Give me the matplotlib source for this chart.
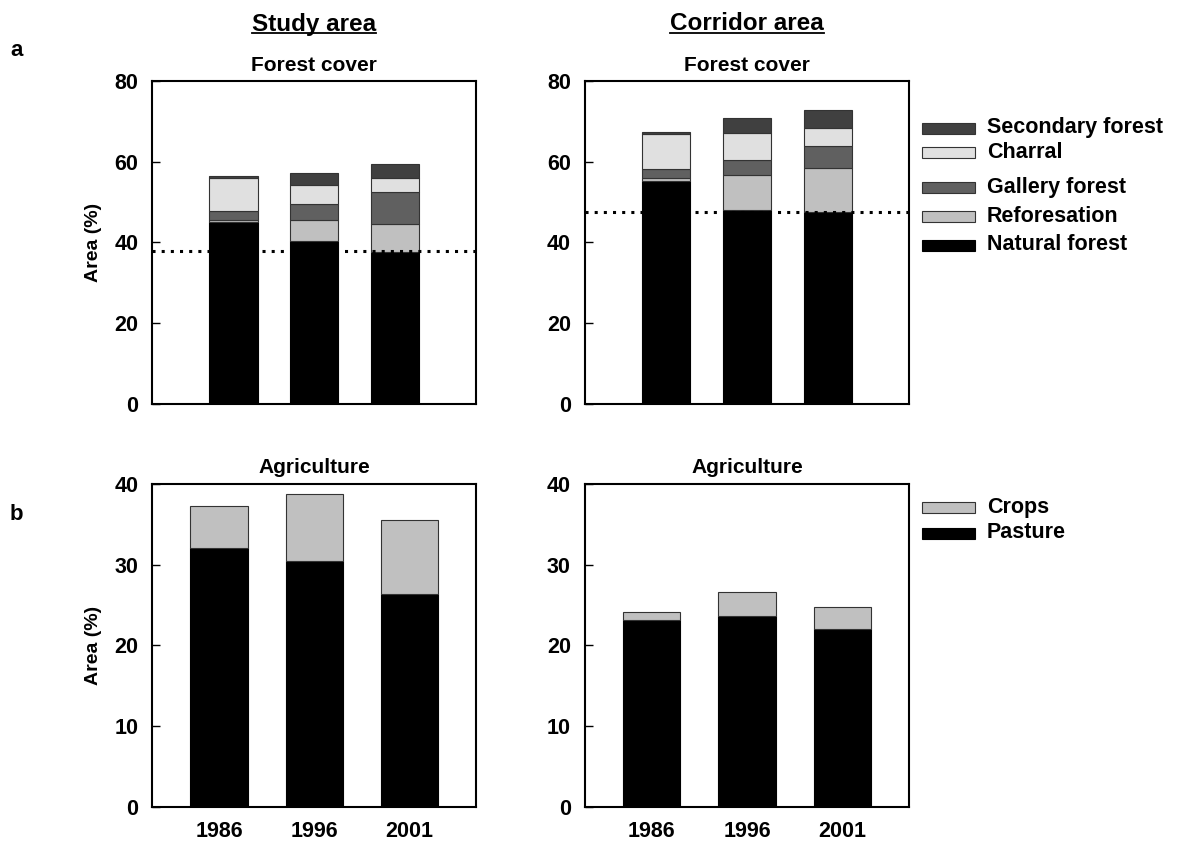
import matplotlib.pyplot as plt
import numpy as np
from matplotlib.patches import Rectangle
from matplotlib.lines import Line2D

plt.rcParams["font.family"] = ["Liberation Sans", "DejaVu Sans"]
plt.rcParams["font.weight"] = "bold"

years = ["1986", "1996", "2001"]

# forest cover layers (% of area), bottom to top
forest_names = ["Natural forest", "Reforesation", "Gallery forest", "Charral", "Secondary forest"]
forest_colors = ["#000000", "#c0c0c0", "#606060", "#e0e0e0", "#404040"]
study_natural = [44.9, 40.3, 37.7]
study_refor = [0.5, 5.3, 6.9]
study_gallery = [2.3, 3.8, 7.9]
study_charral = [8.3, 4.7, 3.5]
study_secondary = [0.5, 3.1, 3.4]
corr_natural = [55.3, 48.0, 47.6]
corr_refor = [0.7, 8.6, 10.8]
corr_gallery = [2.2, 3.7, 5.6]
corr_charral = [8.7, 6.9, 4.4]
corr_secondary = [0.5, 3.5, 4.3]
study_ref_line = 37.8
corr_ref_line = 47.6

# agriculture layers
agri_names = ["Pasture", "Crops"]
agri_colors = ["#000000", "#c0c0c0"]
study_pasture = [32.1, 30.4, 26.4]
study_crops = [5.2, 8.4, 9.1]
corr_pasture = [23.1, 23.6, 22.0]
corr_crops = [1.0, 3.0, 2.8]

W, H = 1177, 843
fig = plt.figure(figsize=(W / 100, H / 100), dpi=100)


def px_axes(x0, x1, y_top, y_bot):
    return fig.add_axes([x0 / W, 1 - y_bot / H, (x1 - x0) / W, (y_bot - y_top) / H])


def stacked(ax, layers, colors, xlim):
    x = np.arange(len(years))
    bottom = np.zeros(len(years))
    for vals, c in zip(layers, colors):
        ec = "#000000" if c == "#000000" else "#333333"
        ax.bar(x, vals, 0.6, bottom=bottom, color=c, edgecolor=ec, linewidth=0.8, zorder=2)
        bottom += np.array(vals)
    ax.set_xlim(*xlim)
    ax.set_xticks(x)
    ax.tick_params(axis="x", length=0, pad=10, labelsize=15.5)
    ax.tick_params(axis="y", direction="in", length=6, width=1, pad=10, labelsize=15.5)
    for s in ax.spines.values():
        s.set_linewidth(1.5)


ax1 = px_axes(152.3, 476, 81, 403.5)
ax2 = px_axes(584.7, 909.3, 81, 403.5)
ax3 = px_axes(152.3, 476, 484, 806.7)
ax4 = px_axes(584.7, 909.3, 484, 806.7)

stacked(ax1, [study_natural, study_refor, study_gallery, study_charral, study_secondary],
        forest_colors, (-1, 3))
stacked(ax2, [corr_natural, corr_refor, corr_gallery, corr_charral, corr_secondary],
        forest_colors, (-1, 3))
stacked(ax3, [study_pasture, study_crops], agri_colors, (-0.7, 2.7))
stacked(ax4, [corr_pasture, corr_crops], agri_colors, (-0.7, 2.7))

for ax, lvl in [(ax1, study_ref_line), (ax2, corr_ref_line)]:
    ax.set_ylim(0, 80)
    ax.set_yticks([0, 20, 40, 60, 80])
    ax.axhline(lvl, color="black", linestyle=(0, (1, 2)), linewidth=2.2, zorder=3)
    ax.set_xticklabels([])
    ax.set_title("Forest cover", fontsize=15, fontweight="bold", pad=7)

for ax in [ax3, ax4]:
    ax.set_ylim(0, 40)
    ax.set_yticks([0, 10, 20, 30, 40])
    ax.set_xticklabels(years)
    ax.set_title("Agriculture", fontsize=15, fontweight="bold", pad=8)

for ax in [ax1, ax3]:
    ax.set_ylabel("Area (%)", fontsize=14, fontweight="bold", labelpad=9)

# column headers, underlined
heads = [fig.text(314 / W, 1 - 24 / H, "Study area", ha="center", va="center",
                  fontsize=17.5, fontweight="bold"),
         fig.text(747 / W, 1 - 24 / H, "Corridor area", ha="center", va="center",
                  fontsize=17.5, fontweight="bold")]
fig.canvas.draw()
rend = fig.canvas.get_renderer()
for t in heads:
    bb = t.get_window_extent(rend).transformed(fig.transFigure.inverted())
    fig.add_artist(Line2D([bb.x0, bb.x1], [bb.y0 + 0.003, bb.y0 + 0.003],
                          color="black", linewidth=1.3))

fig.text(10 / W, 1 - 50 / H, "a", fontsize=16, fontweight="bold", va="center")
fig.text(10 / W, 1 - 515 / H, "b", fontsize=16, fontweight="bold", va="center")

# legends
forest_leg_y = [245, 216, 187, 152, 128]
agri_leg_y = [533, 507]


def legend_rows(names, colors, ys):
    for name, c, y in zip(names, colors, ys):
        ec = "#000000" if c == "#000000" else "#333333"
        fig.add_artist(Rectangle((922 / W, 1 - (y + 5.5) / H), 53 / W, 11 / H,
                                 facecolor=c, edgecolor=ec, linewidth=0.8,
                                 transform=fig.transFigure))
        fig.text(987 / W, 1 - y / H, name, fontsize=15.5, fontweight="bold", va="center")


legend_rows(forest_names, forest_colors, forest_leg_y)
legend_rows(agri_names, agri_colors, agri_leg_y)

fig.savefig("out.png", dpi=100)
